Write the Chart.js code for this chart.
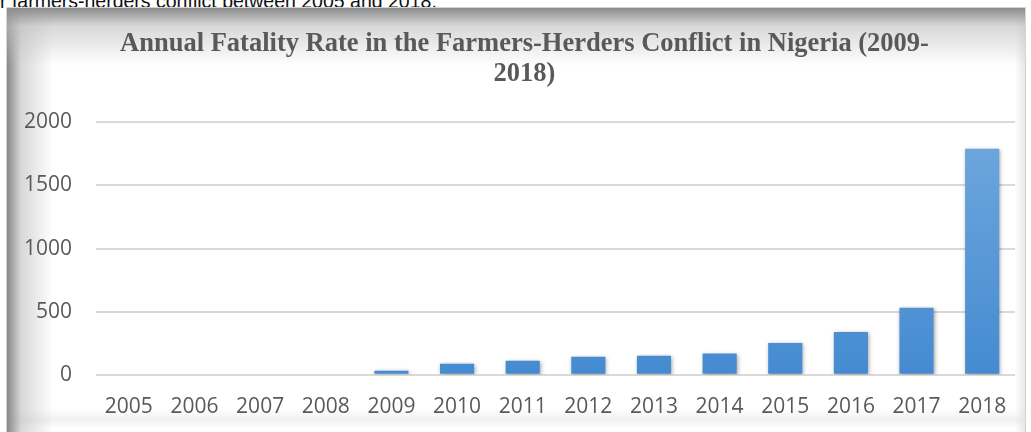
<!DOCTYPE html>
<html>
<head>
<meta charset="utf-8">
<script src="https://cdn.jsdelivr.net/npm/chart.js@4"></script>
<style>
  html, body { margin: 0; padding: 0; background: #fff; overflow: hidden; }
  #page { position: relative; width: 1031px; height: 432px; overflow: hidden; }
  #caption {
    position: absolute; left: 0px; top: -9px; white-space: nowrap;
    font: 19.5px/20px "Liberation Sans", Arial, sans-serif; color: #111;
  }
  #frame {
    position: absolute; left: 6px; top: 7px; width: 1018px; height: 440px;
    border: 1px solid #d4d4d4;
    background:
      linear-gradient(to bottom, #8c8c8c 0px, rgba(190,190,190,0.6) 18px, rgba(255,255,255,0) 58px),
      linear-gradient(to right, #878787 0px, rgba(190,190,190,0.6) 14px, rgba(255,255,255,0) 46px),
      linear-gradient(to left, rgba(225,225,225,0.8) 0px, rgba(255,255,255,0) 10px),
      linear-gradient(to top, rgba(255,255,255,0) 20px, rgba(240,240,240,0.9) 28px, rgba(255,255,255,0) 40px),
      #fff;
  }
  #chart { position: absolute; left: 0; top: 0; }
</style>
</head>
<body>
<div id="page">
  <div id="caption">r farmers-herders conflict between 2005 and 2018.</div>
  <div id="frame"></div>
  <canvas id="chart" width="1031" height="440"></canvas>
</div>
<script>
const years = ['2005', '2006', '2007', '2008', '2009', '2010', '2011', '2012', '2013', '2014', '2015', '2016', '2017', '2018'];
const fatalities = [0, 0, 0, 0, 32, 88, 112, 142, 150, 168, 252, 340, 532, 1790];
const yTicks = [0, 500, 1000, 1500, 2000];
const titleLines = ['Annual Fatality Rate in the Farmers-Herders Conflict in Nigeria (2009-', '2018)'];

function barFill(ctx) {
  const area = ctx.chart.chartArea;
  if (!area) return '#5b9bd5';
  const g = ctx.chart.ctx.createLinearGradient(0, area.top, 0, area.bottom);
  g.addColorStop(0, '#70a8dd');
  g.addColorStop(1, '#458bd1');
  return g;
}

const barShadow = {
  id: 'barShadow',
  beforeDatasetsDraw(chart) {
    const c = chart.ctx;
    c.save();
    c.shadowColor = 'rgba(0,0,0,0.35)';
    c.shadowBlur = 4;
    c.shadowOffsetX = 1;
    c.shadowOffsetY = 1;
  },
  afterDatasetsDraw(chart) {
    chart.ctx.restore();
  }
};

// the title sits a bit right of the plot centre in the original
const titleShift = {
  id: 'titleShift',
  afterLayout(chart) {
    const t = chart.titleBlock;
    if (t) { t.left += 17; t.right += 17; }
  }
};

const tickFont = { family: '"Open Sans", sans-serif', size: 21 };

new Chart(document.getElementById('chart'), {
  type: 'bar',
  data: {
    labels: years,
    datasets: [{
      data: fatalities,
      backgroundColor: barFill,
      borderWidth: 0,
      barPercentage: 0.52,
      categoryPercentage: 1
    }]
  },
  plugins: [barShadow, titleShift],
  options: {
    responsive: false,
    animation: false,
    layout: { padding: { left: 0, right: 16, top: 30, bottom: 1 } },
    plugins: {
      legend: { display: false },
      tooltip: { enabled: false },
      title: {
        display: true,
        text: titleLines,
        color: '#595959',
        font: { family: '"Liberation Serif", "Times New Roman", serif', size: 26.5, weight: 'bold', lineHeight: 1.1 },
        padding: { top: 0, bottom: 34 }
      }
    },
    scales: {
      x: {
        grid: { display: false, drawTicks: false },
        border: { display: false },
        ticks: { color: '#595959', font: tickFont, padding: 19.5, maxRotation: 0, autoSkip: false }
      },
      y: {
        min: 0,
        max: 2000,
        afterBuildTicks: axis => { axis.ticks = yTicks.map(v => ({ value: v })); },
        grid: { color: '#d9d9d9', lineWidth: 2, drawTicks: false },
        border: { display: false },
        ticks: { color: '#595959', font: tickFont, padding: 24, callback: v => String(v) }
      }
    }
  }
});
</script>
</body>
</html>
